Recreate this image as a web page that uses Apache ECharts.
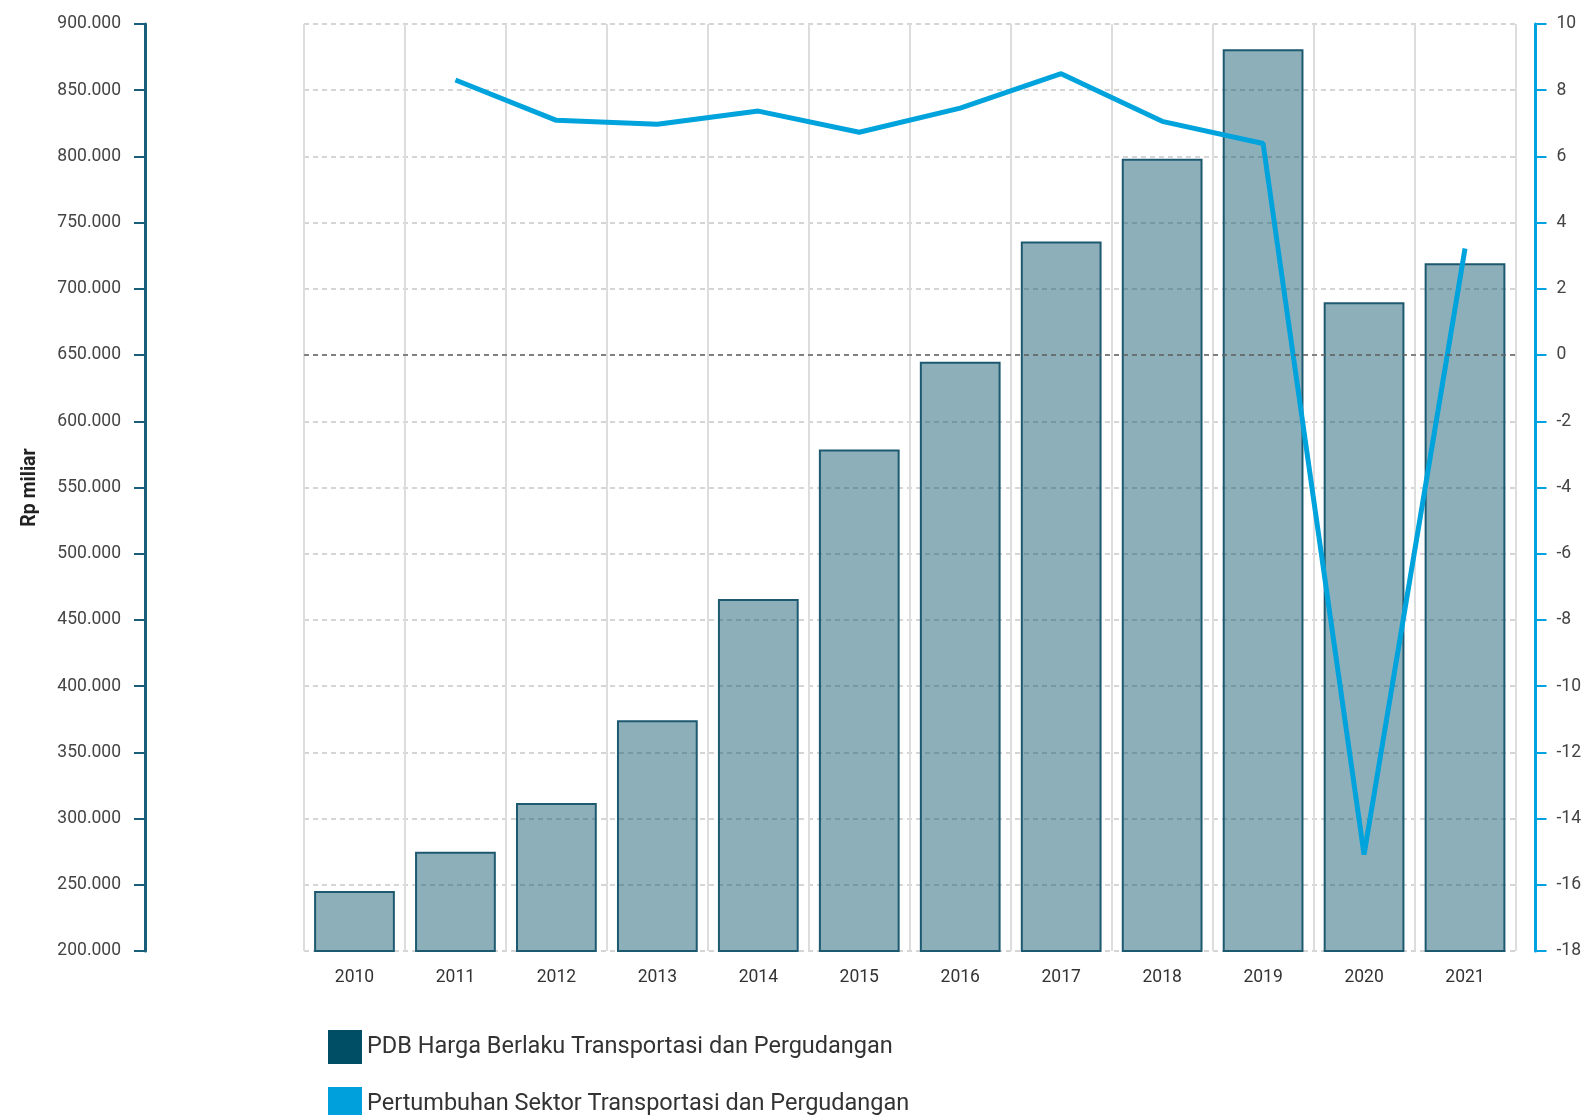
<!DOCTYPE html>
<html>
<head>
<meta charset="utf-8">
<script src="https://cdn.jsdelivr.net/npm/echarts@6/dist/echarts.min.js"></script>
<style>
html,body{margin:0;padding:0;background:#fff;}
#chart{width:1584px;height:1115px;}
</style>
</head>
<body>
<div id="chart"></div>
<script>
var categories = ['2010','2011','2012','2013','2014','2015','2016','2017','2018','2019','2020','2021'];
var pdbValues = [245300, 275000, 311700, 374200, 465800, 578700, 645000, 735800, 798300, 880900, 689800, 719300];
var growthValues = [null, 8.31, 7.09, 6.97, 7.37, 6.73, 7.46, 8.50, 7.06, 6.39, -15.09, 3.22];
var leftTicks = {min: 200000, max: 900000, interval: 50000};
var rightTicks = {min: -18, max: 10, interval: 2};
var seriesNames = ['PDB Harga Berlaku Transportasi dan Pergudangan', 'Pertumbuhan Sektor Transportasi dan Pergudangan'];

var chart = echarts.init(document.getElementById('chart'));
var font = 'Roboto';
var legendText = {fontSize: 23.5, color: '#333', fontFamily: font};
chart.setOption({
  animation: false,
  textStyle: {fontFamily: font},
  grid: {left: 304, right: 68, top: 24, height: 927},
  legend: [
    {
      orient: 'vertical', left: 323, top: 1025,
      itemWidth: 34, itemHeight: 34, icon: 'rect', itemGap: 8,
      textStyle: legendText,
      data: [{name: seriesNames[0], itemStyle: {color: '#004d66', opacity: 1, borderWidth: 0}}]
    },
    {
      orient: 'vertical', left: 323, top: 1082,
      itemWidth: 34, itemHeight: 34, icon: 'rect', itemGap: 8,
      textStyle: legendText,
      data: [{name: seriesNames[1], itemStyle: {color: '#00a0dc', opacity: 1}}]
    }
  ],
  xAxis: {
    type: 'category', data: categories, boundaryGap: true,
    axisLine: {show: false}, axisTick: {show: false},
    axisLabel: {color: '#333', fontSize: 17.5, margin: 18, fontFamily: font},
    splitLine: {show: true, lineStyle: {color: '#ddd', width: 2}}
  },
  yAxis: [
    {
      type: 'value', min: leftTicks.min, max: leftTicks.max, interval: leftTicks.interval,
      position: 'left', offset: 159,
      name: 'Rp miliar', nameLocation: 'middle', nameGap: 105, nameRotate: 90,
      nameTextStyle: {fontSize: 19.5, fontWeight: 'bold', color: '#222', fontFamily: font},
      axisLine: {show: true, lineStyle: {color: '#1a5f7a', width: 3}},
      axisTick: {show: true, length: 11, lineStyle: {color: '#1a5f7a', width: 2}},
      axisLabel: {color: '#444', fontSize: 17.5, margin: 24, fontFamily: font,
        formatter: function(v){ return (v/1000).toFixed(3); }},
      splitLine: {show: true, lineStyle: {color: '#c8c8c8', type: [5,4], width: 1.5}}
    },
    {
      type: 'value', min: rightTicks.min, max: rightTicks.max, interval: rightTicks.interval,
      position: 'right', offset: 20,
      axisLine: {show: true, lineStyle: {color: '#00a3e0', width: 3}},
      axisTick: {show: true, length: 11, lineStyle: {color: '#00a3e0', width: 2}},
      axisLabel: {color: '#444', fontSize: 17.5, margin: 21, fontFamily: font},
      splitLine: {show: false}
    }
  ],
  series: [
    {
      name: seriesNames[0], type: 'bar', yAxisIndex: 0, barWidth: '80%',
      data: pdbValues,
      itemStyle: {color: 'rgba(0,77,102,0.45)', borderColor: '#1d5a70', borderWidth: 2}
    },
    {
      name: seriesNames[1], type: 'line', yAxisIndex: 1,
      data: growthValues, symbol: 'none', showSymbol: false,
      lineStyle: {color: '#00a3dc', width: 5},
      itemStyle: {color: '#00a0dc'},
      markLine: {
        silent: true, symbol: 'none', label: {show: false},
        lineStyle: {color: '#666', type: [5,4], width: 1.5},
        data: [{yAxis: 0}]
      }
    }
  ]
});
</script>
</body>
</html>
